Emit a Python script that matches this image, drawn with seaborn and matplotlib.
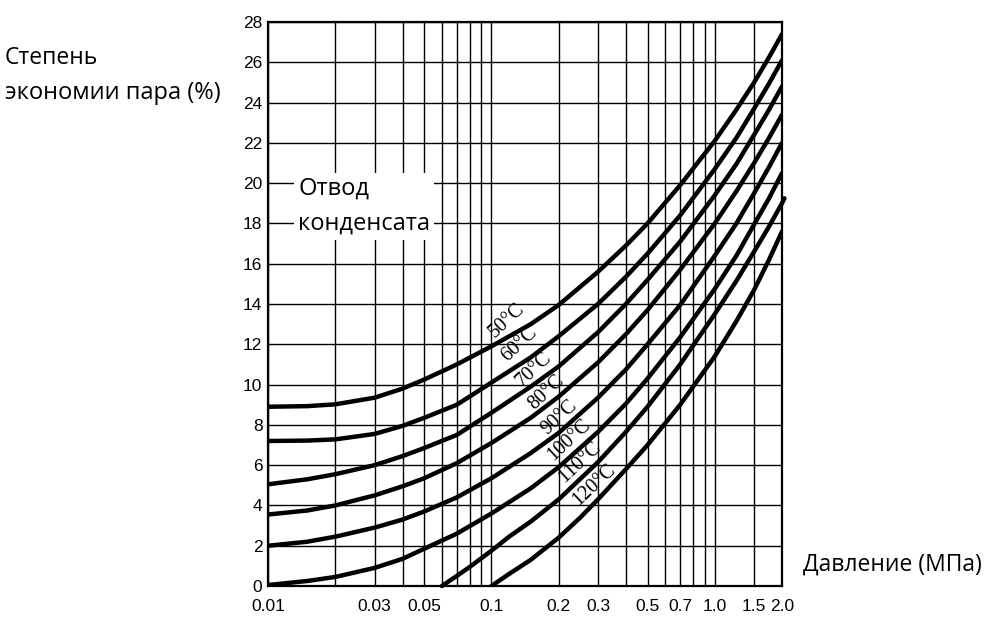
import matplotlib
matplotlib.use('Agg')
import seaborn as sns
import pandas as pd
import matplotlib.pyplot as plt

# data: pressure (MPa) vs steam saving (%)
pressure = [0.01, 0.015, 0.02, 0.03, 0.04, 0.05, 0.07, 0.1, 0.15, 0.2, 0.3, 0.4, 0.5, 0.7,
            1.0, 1.25, 1.5, 1.75, 2.0]
s_50 = [8.9, 8.93, 9.02, 9.35, 9.8, 10.25, 11.0, 11.9, 13.0, 13.95, 15.6, 16.9, 18.0, 19.9,
        22.1, 23.65, 25.0, 26.25, 27.4]
s_60 = [7.2, 7.22, 7.28, 7.55, 7.95, 8.35, 9.0, 10.1, 11.35, 12.4, 14.0, 15.35, 16.5, 18.4,
        20.7, 22.25, 23.7, 24.95, 26.1]
s_70 = [5.05, 5.3, 5.55, 6.0, 6.45, 6.85, 7.5, 8.6, 9.9, 10.9, 12.6, 14.0, 15.2, 17.1,
        19.4, 20.95, 22.4, 23.65, 24.8]
s_80 = [3.55, 3.75, 4.0, 4.5, 4.95, 5.35, 6.1, 7.1, 8.35, 9.4, 11.1, 12.5, 13.7, 15.7,
        18.0, 19.6, 21.0, 22.25, 23.4]
s_90 = [2.0, 2.2, 2.45, 2.9, 3.3, 3.7, 4.4, 5.35, 6.6, 7.6, 9.35, 10.75, 12.0, 13.95,
        16.4, 18.0, 19.5, 20.8, 22.0]
s_100 = [0.05, 0.25, 0.45, 0.9, 1.35, 1.85, 2.6, 3.6, 4.85, 5.9, 7.65, 9.05, 10.3, 12.35,
         14.75, 16.4, 17.95, 19.25, 20.5]

p_110 = [0.06, 0.07, 0.08, 0.1, 0.12, 0.15, 0.2, 0.3, 0.4, 0.5, 0.7, 1.0, 1.25, 1.5, 1.75, 2.0, 2.05]
s_110 = [0.0, 0.5, 0.95, 1.75, 2.45, 3.2, 4.3, 6.15, 7.65, 8.9, 11.0, 13.5, 15.15, 16.6, 17.85, 19.0, 19.25]

p_120 = [0.1, 0.12, 0.15, 0.2, 0.25, 0.3, 0.4, 0.5, 0.7, 1.0, 1.25, 1.5, 1.75, 2.0]
s_120 = [0.0, 0.6, 1.3, 2.4, 3.4, 4.3, 5.8, 7.0, 9.0, 11.4, 13.15, 14.7, 16.2, 17.6]

labels = ['50°C', '60°C', '70°C', '80°C', '90°C', '100°C', '110°C', '120°C']
label_x = [0.117, 0.134, 0.155, 0.177, 0.2025, 0.222, 0.249, 0.288]
label_y = [13.2, 12.0, 10.75, 9.6, 8.36, 7.26, 6.12, 5.02]

grid_x = [0.01, 0.02, 0.03, 0.04, 0.05, 0.06, 0.07, 0.08, 0.09, 0.1,
          0.2, 0.3, 0.4, 0.5, 0.6, 0.7, 0.8, 0.9, 1.0, 1.5, 2.0]
tick_text = {0.01: '0.01', 0.03: '0.03', 0.05: '0.05', 0.1: '0.1', 0.2: '0.2', 0.3: '0.3',
             0.5: '0.5', 0.7: '0.7', 1.0: '1.0', 1.5: '1.5', 2.0: '2.0'}

curves = [(pressure, s_50), (pressure, s_60), (pressure, s_70), (pressure, s_80),
          (pressure, s_90), (pressure, s_100), (p_110, s_110), (p_120, s_120)]

sns.set_style('white')
plt.rcParams['text.color'] = 'black'

fig = plt.figure(figsize=(9.88, 6.2), dpi=100)
ax = fig.add_axes([0.2713, 0.0548, 0.5202, 0.9097])

for lab, (px, sy) in zip(labels, curves):
    df = pd.DataFrame({'p': px, 's': sy})
    sns.lineplot(data=df, x='p', y='s', color='black', lw=3.2, ax=ax,
                 estimator=None, sort=False, clip_on=(lab != '110°C'), zorder=3)

ax.set_xscale('log')
ax.set_xlim(0.01, 2.0)
ax.set_ylim(0, 28)

ax.set_xticks(grid_x)
ax.set_xticklabels([tick_text.get(v, '') for v in grid_x])
ax.xaxis.set_minor_locator(matplotlib.ticker.NullLocator())
ax.set_yticks(range(0, 29, 2))
ax.tick_params(axis='x', length=0, pad=9, colors='black')
ax.tick_params(axis='y', length=0, pad=4, colors='black')
for t in ax.get_xticklabels() + ax.get_yticklabels():
    t.set_family('Liberation Sans')
    t.set_fontsize(12.5)

ax.grid(True, color='black', lw=1.0, zorder=1)
for sp in ax.spines.values():
    sp.set_color('black')
    sp.set_linewidth(1.6)
ax.set_xlabel('')
ax.set_ylabel('')

# curve labels
for lab, lx, ly in zip(labels, label_x, label_y):
    ax.text(lx, ly, lab, rotation=43, rotation_mode='anchor', ha='center', va='center',
            fontsize=14.5, family='Liberation Serif', color='black', zorder=4)

ax.text(0.01365, 18.85, 'Отвод\nконденсата', fontsize=17, family='Open Sans',
        linespacing=1.6, va='center', ha='left', color='black', zorder=5,
        bbox=dict(facecolor='white', edgecolor='none', pad=3))

fig.text(5 / 988, 1 - 58 / 620, 'Степень', fontsize=16.5, family='Open Sans', va='center')
fig.text(5 / 988, 1 - 93 / 620, 'экономии пара (%)', fontsize=17, family='Open Sans', va='center')
fig.text(803 / 988, 1 - 565 / 620, 'Давление (МПа)', fontsize=16.5, family='Open Sans', va='center')

fig.savefig('out.png', dpi=100, facecolor='white')
